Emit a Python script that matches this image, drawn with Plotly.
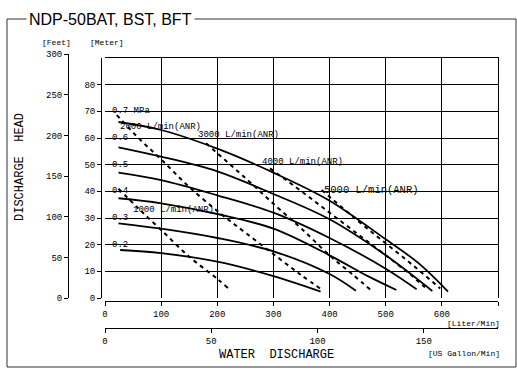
import plotly.graph_objects as go

# pressure curves: water discharge [L/min] vs head [m]
flow_07 = [24, 100, 200, 300, 400, 500, 560, 611]
head_07 = [66, 63, 56, 47, 36.5, 22, 12.8, 2.4]
flow_06 = [24, 100, 200, 300, 400, 500, 583]
head_06 = [56.5, 53, 47.5, 39, 29.5, 16, 2.6]
flow_05 = [24, 100, 200, 300, 400, 500, 555]
head_05 = [47, 44.2, 38.5, 32, 22.5, 11, 3.3]
flow_04 = [24, 100, 200, 300, 400, 470, 519]
head_04 = [37.4, 35.5, 31.5, 26, 16, 8, 3]
flow_03 = [24, 100, 200, 300, 400, 447]
head_03 = [28, 26, 22.5, 17.5, 9, 2.7]
flow_02 = [27, 100, 200, 300, 384]
head_02 = [18, 16.8, 13.6, 8.2, 2.4]

# air consumption curves
air_flow_1000 = [24, 60, 100, 150, 200, 220]
air_head_1000 = [41, 33.5, 25.5, 15.5, 7.2, 3.6]
air_flow_2000 = [21, 62, 100, 148, 205, 250, 306, 350, 387]
air_head_2000 = [68.6, 59.5, 52, 42, 31.8, 24.5, 15.5, 8.5, 3]
air_flow_3000 = [180, 250, 306, 350, 400, 440, 475]
air_head_3000 = [58, 45, 34.2, 26, 16, 9, 2.7]
air_flow_4000 = [294, 350, 400, 450, 500, 540, 570]
air_head_4000 = [48.6, 40, 32, 24, 16, 9.5, 4]
air_flow_5000 = [386, 450, 500, 550, 597]
air_head_5000 = [40.5, 29, 20.5, 12, 3.6]

pressure_labels = ['0.7 MPa', '0.6', '0.5', '0.4', '0.3', '0.2']
pressure_label_heads = [70, 60, 50, 40, 30, 20]

air_labels = ['1000 L/min(ANR)', '2000 L/min(ANR)', '3000 L/min(ANR)',
              '4000 L/min(ANR)', '5000 L/min(ANR)']

lpm_ticks = [0, 100, 200, 300, 400, 500, 600, 700]
meter_ticks = [0, 10, 20, 30, 40, 50, 60, 70, 80]
feet_ticks = [0, 50, 100, 150, 200, 250, 300]
gal_ticks = [0, 50, 100, 150]

W, H = 517, 369
JP = 'Liberation Mono, DejaVu Sans Mono, monospace'


def px(x):
    return x / W


def py(y):
    return 1 - y / H


x_dom = [px(105), px(498)]
y_dom = [py(298), py(58)]
ft_top = y_dom[0] + (300 * 0.3048 / 90) * (y_dom[1] - y_dom[0])

fig = go.Figure()

solid = [(flow_07, head_07), (flow_06, head_06), (flow_05, head_05),
         (flow_04, head_04), (flow_03, head_03), (flow_02, head_02)]
for fx, fy in solid:
    fig.add_trace(go.Scatter(x=fx, y=fy, mode='lines', line_shape='spline',
                             line=dict(color='black', width=1.8), hoverinfo='skip'))

dashed = [(air_flow_1000, air_head_1000), (air_flow_2000, air_head_2000),
          (air_flow_3000, air_head_3000), (air_flow_4000, air_head_4000),
          (air_flow_5000, air_head_5000)]
for fx, fy in dashed:
    fig.add_trace(go.Scatter(x=fx, y=fy, mode='lines', line_shape='spline',
                             line=dict(color='black', width=2, dash='4px,4px'),
                             hoverinfo='skip'))

# empty traces so the extra axes get drawn
fig.add_trace(go.Scatter(x=[None], y=[None], xaxis='x2', yaxis='y2', hoverinfo='skip'))
fig.add_trace(go.Scatter(x=[None], y=[None], xaxis='x3', yaxis='y3', hoverinfo='skip'))

for txt, h in zip(pressure_labels, pressure_label_heads):
    fig.add_annotation(x=9, y=h, text=txt, showarrow=False, xanchor='left',
                       yanchor='middle', font=dict(family=JP, size=9, color='black'))

air_label_pos = [(46, 33), (23, 64.1), (162, 61.1), (276, 51.1), (386, 40.5)]
for i, (txt, (ax, ay)) in enumerate(zip(air_labels, air_label_pos)):
    fig.add_annotation(x=ax, y=ay, text=txt, showarrow=False, xanchor='left',
                       yanchor='middle',
                       font=dict(family=JP, size=10.5 if i == 4 else 9, color='black'))

tickfont = dict(family=JP, size=9, color='black')
axis_common = dict(showgrid=False, zeroline=False, showline=True, linecolor='black',
                   linewidth=1, ticks='outside', ticklen=4, tickcolor='black',
                   tickfont=tickfont, fixedrange=True)

fig.update_layout(
    width=W, height=H,
    margin=dict(l=0, r=0, t=0, b=0),
    template='none',
    showlegend=False,
    paper_bgcolor='white',
    plot_bgcolor='rgba(0,0,0,0)',
    xaxis=dict(domain=x_dom, range=[0, 700], tickvals=lpm_ticks[1:-1],
               showgrid=True, gridcolor='black', gridwidth=1, zeroline=False,
               side='top', showline=True, linecolor='black', ticks='',
               showticklabels=False, fixedrange=True),
    yaxis=dict(domain=y_dom, range=[0, 90], tickvals=meter_ticks[1:],
               showgrid=True, gridcolor='black', gridwidth=1, zeroline=False,
               side='right', showline=True, linecolor='black', ticks='',
               showticklabels=False, fixedrange=True),
    xaxis2=dict(domain=x_dom, range=[0, 700], anchor='free', position=py(301),
                tickvals=lpm_ticks, ticktext=[str(t) for t in lpm_ticks[:-1]] + [''],
                **axis_common),
    yaxis2=dict(domain=y_dom, range=[0, 90], anchor='free', position=px(101),
                tickvals=meter_ticks, **axis_common),
    xaxis3=dict(domain=x_dom, range=[0, 700 / 3.78541], anchor='free', position=py(328),
                tickvals=gal_ticks, **axis_common),
    yaxis3=dict(domain=[y_dom[0], ft_top], range=[0, 300], anchor='free',
                position=px(68), tickvals=feet_ticks, **axis_common),
)

# outer frame and title
fig.add_shape(type='rect', xref='paper', yref='paper', x0=px(7), x1=px(516),
              y0=py(367), y1=py(19), line=dict(color='#333', width=1))


def note(x, y, text, font, xanchor='center', **kw):
    fig.add_annotation(xref='paper', yref='paper', x=px(x), y=py(y), text=text,
                       showarrow=False, xanchor=xanchor, yanchor='middle',
                       font=font, **kw)


note(26, 20, 'NDP-50BAT, BST, BFT',
     dict(family='Liberation Sans, Arial', size=16, color='black'),
     xanchor='left', bgcolor='white', borderpad=2)

small = dict(family=JP, size=8, color='black')
note(56, 43, '[Feet]', small)
note(107, 43, '[Meter]', small)
note(502, 323, '[Liter/Min]', small, xanchor='right')
note(502, 353, '[US Gallon/Min]', small, xanchor='right')
note(276, 355, 'WATER  DISCHARGE', dict(family=JP, size=12, color='black'))
note(20, 167, 'DISCHARGE  HEAD', dict(family=JP, size=12, color='black'), textangle=-90)

fig.write_html("out.html", config={'displayModeBar': False},
               post_script="document.body.style.margin='0';")
